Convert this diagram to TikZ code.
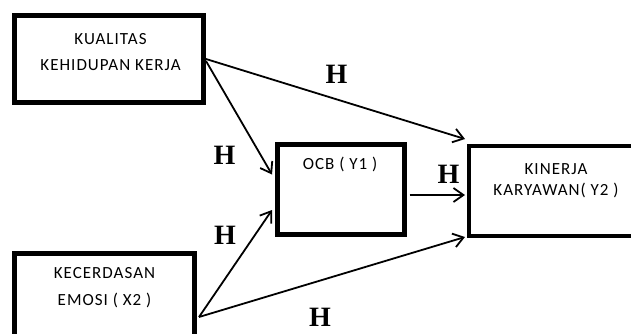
\documentclass[tikz,border=0pt]{standalone}
\usepackage{fontspec}
\setmainfont{Carlito}
\newfontfamily\hfont{Liberation Serif}
\usetikzlibrary{arrows.meta}
\newfontfamily\boxfont[LetterSpace=6]{Carlito}
\tikzset{
  box/.style={draw=black, line width=5pt, fill=none, inner sep=0pt},
  txt/.style={font=\boxfont\fontsize{17}{26}\selectfont, align=center, inner sep=0pt},
  hlab/.style={font=\hfont\bfseries\fontsize{28}{28}\selectfont, inner sep=0pt},
  arr/.style={line width=1.8pt, -{Straight Barb[length=10pt,width=14pt,line width=1.8pt]}}
}
\begin{document}
\begin{tikzpicture}[x=1pt,y=-1pt]
\useasboundingbox[fill=white] (0,0) rectangle (631,333);
% boxes
\node[box, minimum width=189, minimum height=87] (kq) at (109,59) {};
\node[box, minimum width=180, minimum height=95] (ke) at (104.5,301) {};
\node[box, minimum width=127, minimum height=90] (ocb) at (341,189.5) {};
\node[box, line width=4pt, minimum width=176, minimum height=90] (kin) at (557,191) {};
% texts
\node[txt] (tkq) at (110.5,52.5) {KUALITAS\\KEHIDUPAN KERJA};
\node[txt, font=\boxfont\fontsize{17}{27}\selectfont] (tke) at (104.5,287.5) {KECERDASAN\\EMOSI ( X2 )};
\node[txt] (tocb) at (340,164) {OCB ( Y1 )};
\node[txt, font=\boxfont\fontsize{17}{21}\selectfont] (tkin) at (556,180.5) {KINERJA\\KARYAWAN( Y2 )};
% arrows
\draw[arr] (kq.east) -- ([shift={(-2,-5)}]kin.north west);
\draw[arr] ([shift={(0,2)}]kq.east) -- ([shift={(-3,-15)}]ocb.west);
\draw[arr] ([shift={(2,16)}]ke.east) -- ([shift={(-3,20.5)}]ocb.west);
\draw[arr] ([shift={(2,16)}]ke.east) -- ([shift={(-2,-1)}]kin.south west);
\draw[arr] ([shift={(2.5,5.5)}]ocb.east) -- ([shift={(-2,4)}]kin.west);
% labels
\node[hlab] (h1) at (336.5,74) {H};
\node[hlab] (h2) at (224.5,155) {H};
\node[hlab] (h3) at (225,235) {H};
\node[hlab] (h4) at (448.5,174) {H};
\node[hlab] (h5) at (320,317) {H};
\end{tikzpicture}
\end{document}
